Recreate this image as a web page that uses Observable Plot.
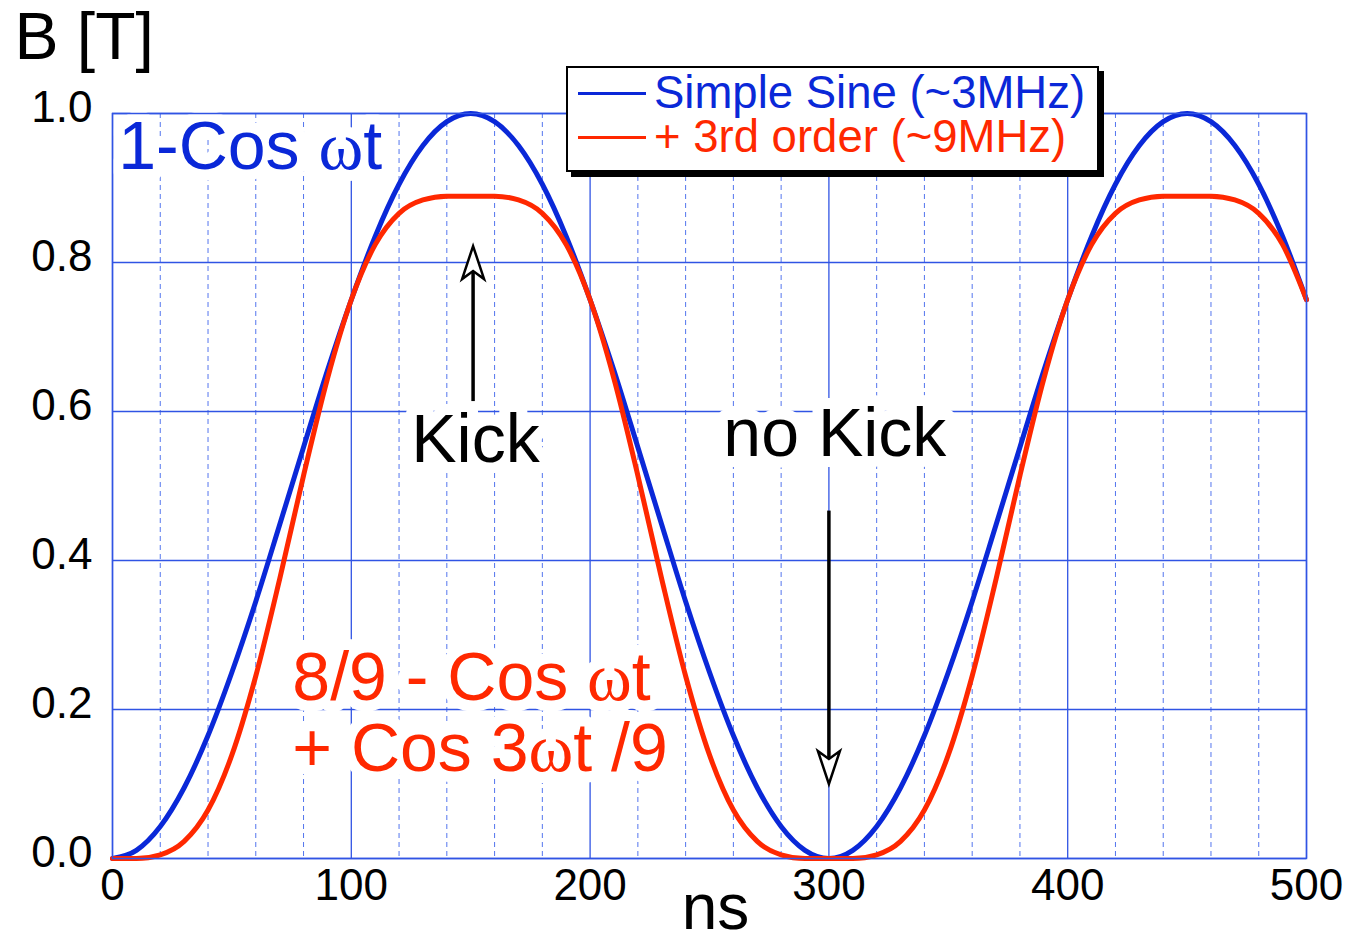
<!DOCTYPE html>
<html>
<head>
<meta charset="utf-8">
<script src="https://cdn.jsdelivr.net/npm/d3@7"></script>
<script src="https://cdn.jsdelivr.net/npm/@observablehq/plot@0.6"></script>
<style>
  body { margin: 0; background: white; }
  #wrap { position: relative; width: 1345px; height: 941px; font-family: "Liberation Sans", Arial, Helvetica, sans-serif; }
  #legend { position: absolute; left: 566px; top: 66px; width: 529px; height: 102px; background: white; border: 2px solid black; box-shadow: 5px 5px 0 black; }
  .row { position: absolute; left: 10px; height: 42px; line-height: 42px; display: flex; align-items: center; font-size: 45.5px; white-space: nowrap; }
  .sw { width: 68px; height: 0; border-top: 3.5px solid; margin-right: 8px; }
</style>
</head>
<body>
<div id="wrap"></div>
<script>
// time axis (ns)
const times = [0,10,20,30,40,50,60,70,80,90,100,110,120,130,140,150,160,170,180,190,200,210,220,230,240,250,260,270,280,290,300,310,320,330,340,350,360,370,380,390,400,410,420,430,440,450,460,470,480,490,500];
// Simple sine (blue)
const simpleSine = [0,0.011,0.043,0.095,0.165,0.250,0.345,0.448,0.552,0.655,0.750,0.835,0.905,0.957,0.989,1.000,0.989,0.957,0.905,0.835,0.750,0.655,0.552,0.448,0.345,0.250,0.165,0.095,0.043,0.011,0.000,0.011,0.043,0.095,0.165,0.250,0.345,0.448,0.552,0.655,0.750,0.835,0.905,0.957,0.989,1.000,0.989,0.957,0.905,0.835,0.750];
// + 3rd order (red)
const thirdOrder = [0,0.000,0.005,0.023,0.065,0.139,0.245,0.375,0.514,0.644,0.750,0.824,0.866,0.884,0.889,0.889,0.889,0.884,0.866,0.824,0.750,0.644,0.514,0.375,0.245,0.139,0.065,0.023,0.005,0.000,0.000,0.000,0.005,0.023,0.065,0.139,0.245,0.375,0.514,0.644,0.750,0.824,0.866,0.884,0.889,0.889,0.889,0.884,0.866,0.824,0.750];

const xMajor = [0,100,200,300,400,500];
const xMinor = [20,40,60,80,120,140,160,180,220,240,260,280,320,340,360,380,420,440,460,480];
const yMajor = [0,0.2,0.4,0.6,0.8,1.0];

const seriesNames = ["Simple Sine (~3MHz)", "+ 3rd order (~9MHz)"];
const seriesColors = ["#0a28d8", "#ff2800"];

// annotations (data coordinates)
const leftNotes = [
  {label: "1-Cos ωt", t: 2.4, v: 0.955, color: "#0a28d8"},
  {label: "8/9 - Cos ωt", t: 75.3, v: 0.242, color: "#ff2800"},
  {label: "+ Cos 3ωt /9", t: 75.3, v: 0.147, color: "#ff2800"}
];
const centerNotes = [
  {label: "Kick", t: 152, v: 0.562, color: "black"},
  {label: "no Kick", t: 302.5, v: 0.570, color: "black"}
];
const arrows = [
  {t: 151, from: 0.614, to: 0.790, tip: 0.822, rot: 0},
  {t: 300, from: 0.467, to: 0.125, tip: 0.100, rot: 180}
];

const blueData = times.map((t, i) => ({t, v: simpleSine[i]}));
const redData = times.map((t, i) => ({t, v: thirdOrder[i]}));

const dart = {
  draw(ctx) {
    ctx.moveTo(0, 0);
    ctx.lineTo(-11, 33);
    ctx.lineTo(0, 25);
    ctx.lineTo(11, 33);
    ctx.closePath();
  }
};

const font = "'Liberation Sans', Arial, Helvetica, sans-serif";
const gridColor = "#3054e4";
const noteSize = 68;

const svg = Plot.plot({
  width: 1345,
  height: 941,
  marginLeft: 112,
  marginRight: 39,
  marginTop: 113,
  marginBottom: 83,
  style: {fontFamily: font, background: "white", color: "black"},
  x: {domain: [0, 500]},
  y: {domain: [0, 1]},
  marks: [
    Plot.ruleX(xMinor, {stroke: "#5375ee", strokeWidth: 1, strokeDasharray: "5,4"}),
    Plot.ruleX(xMajor, {stroke: gridColor, strokeWidth: 1.3}),
    Plot.ruleY(yMajor, {stroke: gridColor, strokeWidth: 1.3}),
    Plot.axisY({ticks: yMajor, tickFormat: d => d.toFixed(1), tickSize: 0, tickPadding: 20, fontSize: 44, dy: -6, label: null}),
    Plot.axisX({ticks: xMajor, tickFormat: d => String(d), tickSize: 0, tickPadding: 10, fontSize: 44, label: null}),
    Plot.line(blueData, {x: "t", y: "v", stroke: seriesColors[0], strokeWidth: 5, curve: "monotone-x"}),
    Plot.line(redData, {x: "t", y: "v", stroke: seriesColors[1], strokeWidth: 5, curve: "monotone-x"}),
    // white boxes behind the annotations
    Plot.text(leftNotes, {x: "t", y: "v", text: "label", fill: "white", textAnchor: "start", fontSize: noteSize, stroke: "white", strokeWidth: 22, lineAnchor: "middle"}),
    Plot.text(centerNotes, {x: "t", y: "v", text: "label", fill: "white", textAnchor: "middle", fontSize: noteSize, stroke: "white", strokeWidth: 22, lineAnchor: "middle"}),
    // annotation text
    Plot.text(leftNotes, {x: "t", y: "v", text: "label", fill: "color", textAnchor: "start", fontSize: noteSize, lineAnchor: "middle"}),
    Plot.text(centerNotes, {x: "t", y: "v", text: "label", fill: "color", textAnchor: "middle", fontSize: noteSize, lineAnchor: "middle"}),
    Plot.frame({stroke: gridColor, strokeWidth: 1.5}),
    Plot.link(arrows, {x1: "t", x2: "t", y1: "from", y2: "to", stroke: "black", strokeWidth: 3.5}),
    Plot.dot(arrows, {x: "t", y: "tip", symbol: dart, rotate: "rot", r: 10, fill: "white", stroke: "black", strokeWidth: 2.5}),
    Plot.text(["B [T]"], {frameAnchor: "top-left", text: d => d, textAnchor: "start", lineAnchor: "middle", dx: -98, dy: -76, fontSize: 66, fill: "black"}),
    Plot.text(["ns"], {frameAnchor: "bottom", text: d => d, textAnchor: "middle", lineAnchor: "middle", dx: 6, dy: 50, fontSize: 64, fill: "black"})
  ]
});

// set ω in a serif face, like the original
const NS = "http://www.w3.org/2000/svg";
svg.querySelectorAll("text").forEach(t => {
  if (t.children.length === 0 && t.textContent.includes("ω")) {
    const parts = t.textContent.split("ω");
    t.textContent = "";
    parts.forEach((p, i) => {
      if (i > 0) {
        const s = document.createElementNS(NS, "tspan");
        s.setAttribute("font-family", "'Liberation Serif', 'DejaVu Serif', serif");
        s.textContent = "ω";
        t.appendChild(s);
      }
      if (p) t.appendChild(document.createTextNode(p));
    });
  }
});

const wrap = document.getElementById("wrap");
wrap.appendChild(svg);

const legend = document.createElement("div");
legend.id = "legend";
seriesNames.forEach((name, i) => {
  const row = document.createElement("div");
  row.className = "row";
  row.style.top = (i === 0 ? 4 : 48) + "px";
  const sw = document.createElement("span");
  sw.className = "sw";
  sw.style.borderColor = seriesColors[i];
  const tx = document.createElement("span");
  tx.textContent = name;
  tx.style.color = seriesColors[i];
  row.appendChild(sw);
  row.appendChild(tx);
  legend.appendChild(row);
});
wrap.appendChild(legend);
</script>
</body>
</html>
